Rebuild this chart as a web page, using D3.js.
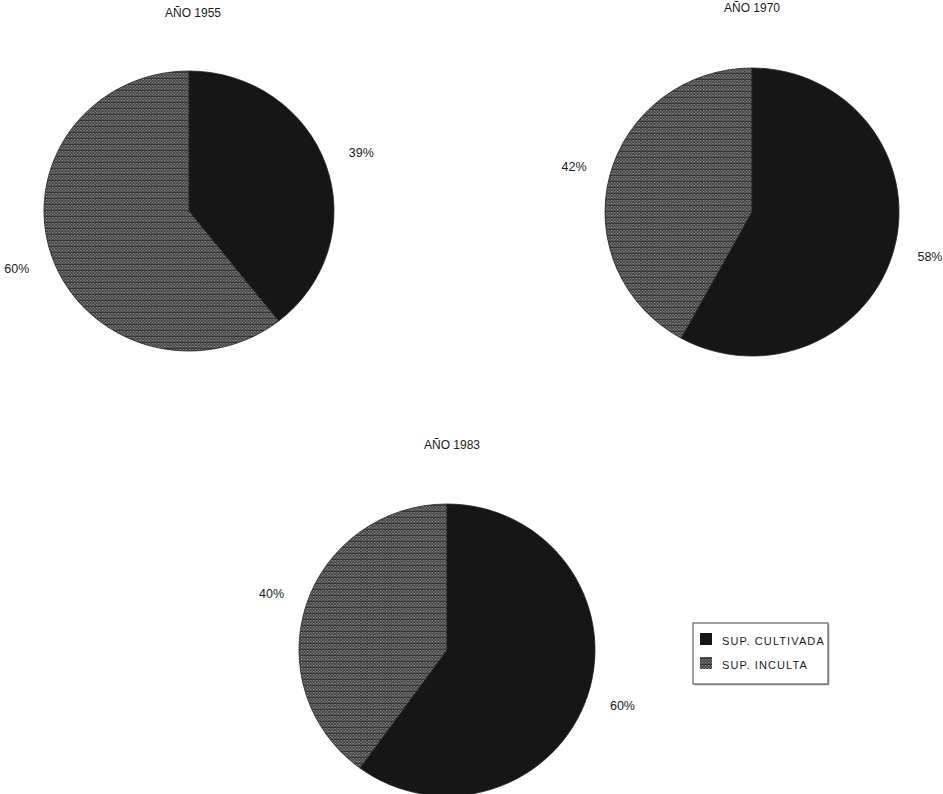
<!DOCTYPE html>
<html><head><meta charset="utf-8">
<script src="https://cdn.jsdelivr.net/npm/d3@7"></script>
<style>
html,body{margin:0;padding:0;background:#fff;}
svg{display:block;}
text{font-family:"Liberation Sans",Arial,sans-serif;fill:#1a1a1a;}
</style></head>
<body>
<svg id="c" width="943" height="794"></svg>
<script>
// ---- data ----
const years = ["AÑO 1955", "AÑO 1970", "AÑO 1983"];
const categories = ["SUP. CULTIVADA", "SUP. INCULTA"];
const cultivada = [39, 58, 60];
const inculta = [60, 42, 40];

// ---- layout ----
const layout = [
  {cx: 189, cy: 211, rx: 145, ry: 140, tx: 193, ty: 17},
  {cx: 752, cy: 212, rx: 147, ry: 144, tx: 752, ty: 12},
  {cx: 447, cy: 650, rx: 148, ry: 146, tx: 452, ty: 449}
];

const svg = d3.select("#c");
const defs = svg.append("defs");
const pat = defs.append("pattern").attr("id", "hatch")
  .attr("patternUnits", "userSpaceOnUse").attr("width", 6).attr("height", 6);
pat.append("rect").attr("width", 6).attr("height", 6).attr("fill", "#3a3a3a");
[[0,0],[3,0],[1.5,1.5],[4.5,1.5],[0,3],[3,3],[1.5,4.5],[4.5,4.5]].forEach(p => {
  pat.append("rect").attr("x", p[0]).attr("y", p[1]).attr("width", 1.2).attr("height", 1.2).attr("fill", "#9c9c9c");
});
pat.append("rect").attr("x", 0).attr("y", 5).attr("width", 6).attr("height", 0.9).attr("fill", "#222").attr("opacity", 0.7);

const color = d3.scaleOrdinal().domain(categories).range(["#161616", "url(#hatch)"]);
const pie = d3.pie().sort(null).value(d => d.value);

years.forEach((yr, i) => {
  const L = layout[i];
  const data = [
    {cat: categories[0], value: cultivada[i]},
    {cat: categories[1], value: inculta[i]}
  ];
  const arcs = pie(data);
  const arc = d3.arc().innerRadius(0).outerRadius(L.ry);
  const g = svg.append("g").attr("transform", `translate(${L.cx},${L.cy})`);
  const gp = g.append("g").attr("transform", `scale(${L.rx / L.ry},1)`);
  gp.selectAll("path").data(arcs).join("path")
    .attr("d", arc)
    .attr("fill", d => color(d.data.cat))
    .attr("stroke", "#222").attr("stroke-width", 0.8);

  const labelR = L.ry + 36;
  g.selectAll("text.lbl").data(arcs).join("text").attr("class", "lbl")
    .attr("x", d => Math.sin((d.startAngle + d.endAngle) / 2) * labelR * (L.rx / L.ry))
    .attr("y", d => -Math.cos((d.startAngle + d.endAngle) / 2) * labelR + 4)
    .attr("text-anchor", "middle")
    .attr("font-size", 12.5)
    .text(d => d.data.value + "%");

  svg.append("text").attr("x", L.tx).attr("y", L.ty)
    .attr("text-anchor", "middle").attr("font-size", 12).text(yr);
});

// ---- legend ----
const lg = svg.append("g").attr("transform", "translate(693,623)");
lg.append("rect").attr("x", 1.5).attr("y", 1.5).attr("width", 135).attr("height", 61).attr("fill", "#bbb");
lg.append("rect").attr("width", 135).attr("height", 61).attr("fill", "#fff").attr("stroke", "#444").attr("stroke-width", 1);
categories.forEach((c, j) => {
  lg.append("rect").attr("x", 7).attr("y", 10 + j * 24).attr("width", 12).attr("height", 12)
    .attr("fill", color(c));
  lg.append("text").attr("x", 29).attr("y", 22 + j * 24)
    .attr("font-size", 11).attr("letter-spacing", 1.1).text(c);
});
</script>
</body></html>
